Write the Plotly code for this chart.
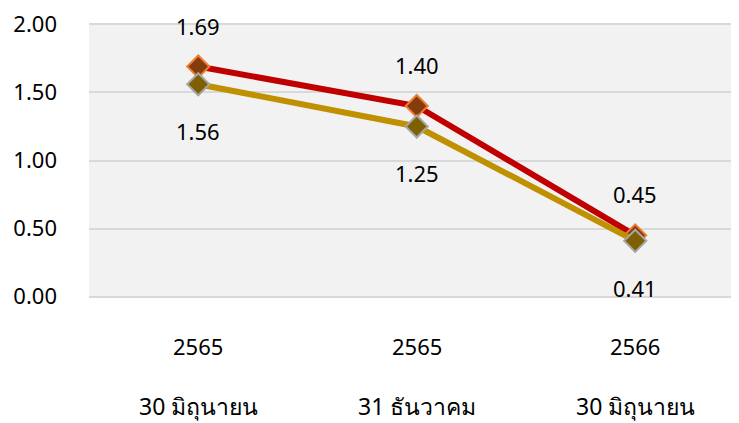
import plotly.graph_objects as go

categories = ["30 มิถุนายน", "31 ธันวาคม", "30 มิถุนายน"]
years = ["2565", "2565", "2566"]
series_a = [1.69, 1.40, 0.45]
series_b = [1.56, 1.25, 0.41]
y_ticks = [0, 0.5, 1.0, 1.5, 2.0]

FONT = "Noto Sans, Tahoma, DejaVu Sans, sans-serif"
x = list(range(len(categories)))

fig = go.Figure()
fig.add_trace(go.Scatter(
    x=x, y=series_a, mode="lines+markers",
    line=dict(color="#c00000", width=6),
    marker=dict(symbol="diamond", size=17, color="#843c0c",
                line=dict(color="#ed7d31", width=2)),
    showlegend=False, hoverinfo="skip"))
fig.add_trace(go.Scatter(
    x=x, y=series_b, mode="lines+markers",
    line=dict(color="#bf9000", width=6),
    marker=dict(symbol="diamond", size=17, color="#7f6000",
                line=dict(color="#a5a5a5", width=2)),
    showlegend=False, hoverinfo="skip"))

annotations = []
for xi, v in zip(x, series_a):
    annotations.append(dict(x=xi, y=v, text=f"{v:.2f}", showarrow=False,
                            yshift=41, font=dict(size=22, color="#000", family=FONT)))
for xi, v in zip(x, series_b):
    annotations.append(dict(x=xi, y=v, text=f"{v:.2f}", showarrow=False,
                            yshift=-47, font=dict(size=22, color="#000", family=FONT)))
for xi, yr, cat in zip(x, years, categories):
    annotations.append(dict(x=xi, y=0, yref="paper", text=yr, showarrow=False,
                            yshift=-48, yanchor="middle",
                            font=dict(size=22, color="#000", family=FONT)))
    annotations.append(dict(x=xi, y=0, yref="paper", text=cat, showarrow=False,
                            yshift=-108, yanchor="middle",
                            font=dict(size=23, color="#000", family=FONT)))

fig.update_layout(
    width=731, height=415,
    margin=dict(l=81, r=0, t=12, b=125),
    paper_bgcolor="white", plot_bgcolor="#f2f2f2",
    annotations=annotations,
    xaxis=dict(range=[-0.5, 2.475], showticklabels=False, showgrid=False,
               zeroline=False, showline=False, ticks=""),
    yaxis=dict(range=[-0.01, 2.01], tickvals=y_ticks,
               ticktext=[f"{v:.2f}" for v in y_ticks],
               showgrid=True, gridcolor="#d9d9d9", gridwidth=1.5,
               zeroline=False, showline=False, ticks="",
               ticklabelstandoff=31, ticklabeloverflow="allow",
               tickfont=dict(size=22, color="#000", family=FONT)),
)

fig.write_html("out.html")
